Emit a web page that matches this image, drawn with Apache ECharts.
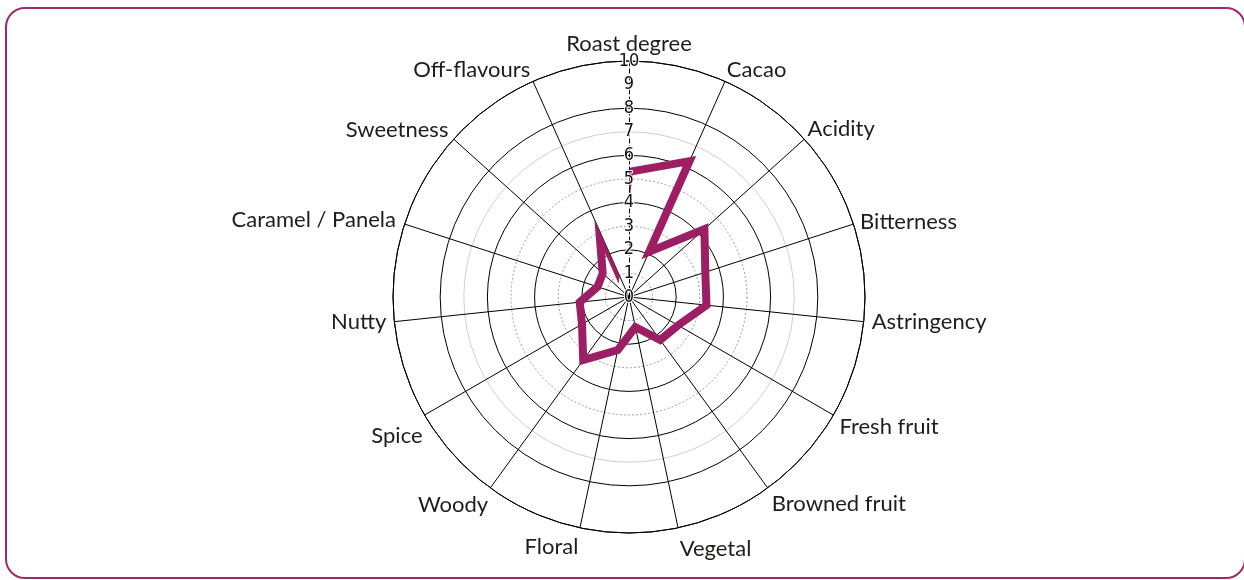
<!DOCTYPE html>
<html>
<head>
<meta charset="utf-8">
<script src="https://cdn.jsdelivr.net/npm/echarts@6/dist/echarts.min.js"></script>
<style>
  html, body { margin: 0; padding: 0; background: #fff; }
  .frame {
    position: absolute; left: 5px; top: 7px; width: 1241px; height: 572px;
    border: 2px solid #a02a69; border-radius: 20px; box-sizing: border-box;
  }
  #chart { position: absolute; left: 0; top: 0; width: 1244px; height: 580px; }
</style>
</head>
<body>
<div class="frame"></div>
<div id="chart"></div>
<script>
// spokes, clockwise from the top
var categories = ['Roast degree', 'Cacao', 'Acidity', 'Bitterness', 'Astringency',
  'Fresh fruit', 'Browned fruit', 'Vegetal', 'Floral', 'Woody', 'Spice', 'Nutty',
  'Caramel / Panela', 'Sweetness', 'Off-flavours'];

// profile line, in drawing order (it doubles back on Cacao and Off-flavours)
var pathCategories = ['Roast degree', 'Cacao', 'Cacao', 'Acidity', 'Bitterness', 'Astringency',
  'Fresh fruit', 'Browned fruit', 'Vegetal', 'Floral', 'Woody', 'Spice', 'Nutty',
  'Caramel / Panela', 'Sweetness', 'Off-flavours', 'Off-flavours', 'Roast degree'];
var pathValues = [5.3, 6.3, 2.1, 4.3, 3.4, 3.3, 2.4, 2.25, 1.3, 2.3, 3.3, 2.3, 2.1, 1.4, 1.5, 3.1, 1.3, 5.3];

var scaleMax = 10;

// small label nudges (padding: top, right, bottom, left)
var namePadding = [
  [0, 0, -1, 0], [0, 0, -6, -1], [0, 0, -6, -2], [0, 0, -11, 0], [6, 0, 0, 1],
  [-3, 0, 0, 0], [-1, 0, 0, 0], [3, 0, 0, 72], [1, 54, 0, 0], [0, -2, 0, 0],
  [6, -4, 0, 0], [6, 1, 0, 0], [0, 2, -9, 0], [0, 0, -7, 0], [0, 0, -6, 0]
];

var T = 'rgba(0,0,0,0)';
var nameFont = 'Lato, "Noto Sans", sans-serif';
var tickFont = '"DejaVu Sans Condensed", "Liberation Sans Narrow", "DejaVu Sans", sans-serif';

var spokeColors = [T];
for (var i = 1; i < categories.length; i++) spokeColors.push('#000');
// rings 0..10
var solidRings = [T, T, '#000', T, '#000', T, '#000', '#cfcfcf', '#000', T, '#000'];
var dashedRings = [T, '#9a9a9a', T, '#9a9a9a', T, '#9a9a9a', T, T, T, T, T];

function hiddenAxis(extra) {
  return Object.assign({
    axisLine: { show: false }, axisTick: { show: false },
    axisLabel: { show: false }, splitLine: { show: false }
  }, extra);
}

var chart = echarts.init(document.getElementById('chart'));

var ctr = [629, 297], rad = 236;

var option = {
  animation: false,
  polar: [
    { center: ctr, radius: rad },
    { center: ctr, radius: rad },
    { center: ctr, radius: rad },
    { center: ctr, radius: rad, z: 5 }
  ],
  angleAxis: [
    // names + the profile line
    {
      polarIndex: 0, type: 'category', boundaryGap: false, startAngle: 90, clockwise: true,
      data: categories.map(function (c, k) {
        return { value: c, textStyle: { padding: namePadding[k] } };
      }),
      axisLine: { show: false }, axisTick: { show: false }, splitLine: { show: false },
      axisLabel: { interval: 0, margin: 7, fontSize: 22, color: '#1d1d1b', fontFamily: nameFont }
    },
    // spokes and outer circle
    {
      polarIndex: 1, type: 'value', min: 0, max: categories.length, interval: 1,
      startAngle: 90, clockwise: true,
      axisLine: { show: true, lineStyle: { color: '#000', width: 1 } },
      axisTick: { show: false }, axisLabel: { show: false },
      splitLine: { show: true, lineStyle: { color: spokeColors, width: 1 } }
    },
    hiddenAxis({ polarIndex: 2, type: 'value', min: 0, max: 360, startAngle: 90 }),
    hiddenAxis({ polarIndex: 3, type: 'value', min: 0, max: 360, startAngle: 90 })
  ],
  radiusAxis: [
    hiddenAxis({ polarIndex: 0, min: 0, max: scaleMax }),
    {
      polarIndex: 1, min: 0, max: scaleMax, interval: 1,
      axisLine: { show: false }, axisTick: { show: false }, axisLabel: { show: false },
      splitLine: { show: true, lineStyle: { color: solidRings, width: 1 } }
    },
    {
      polarIndex: 2, min: 0, max: scaleMax, interval: 1,
      axisLine: { show: false }, axisTick: { show: false }, axisLabel: { show: false },
      splitLine: { show: true, lineStyle: { color: dashedRings, width: 1, type: [2, 2] } }
    },
    {
      polarIndex: 3, min: 0, max: scaleMax, interval: 1, z: 5,
      axisLine: { show: true, lineStyle: { color: '#000', width: 1, type: [4, 3] } },
      axisTick: { show: false },
      axisLabel: {
        margin: 0, align: 'center', verticalAlign: 'middle',
        fontSize: 18, color: '#111', fontFamily: tickFont,
        textBorderColor: '#fff', textBorderWidth: 2
      },
      splitLine: { show: false }
    }
  ],
  series: [{
    type: 'line',
    coordinateSystem: 'polar',
    polarIndex: 0,
    symbol: 'none',
    z: 3,
    lineStyle: { color: '#9c1f63', width: 8, join: 'miter' },
    data: pathValues.map(function (v, k) { return [v, pathCategories[k]]; })
  }]
};

chart.setOption(option);
</script>
</body>
</html>
